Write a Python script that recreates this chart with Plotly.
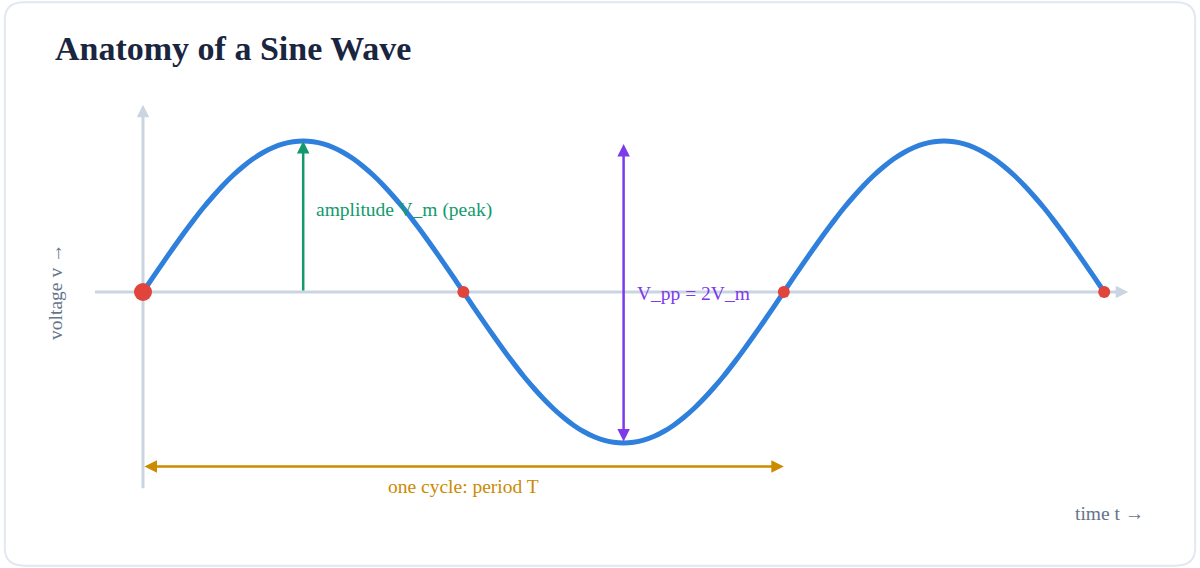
import plotly.graph_objects as go

# data: steps of T/64 (in units of T/4) and sampled voltage (units of V_m)
quarter_up = [0, 0.098, 0.195, 0.290, 0.383, 0.471, 0.556, 0.634, 0.707,
              0.773, 0.831, 0.882, 0.924, 0.957, 0.981, 0.995, 1]
t_q = [i * 0.0625 for i in range(97)]
v = (quarter_up + quarter_up[-2::-1]
     + [-a for a in quarter_up[1:]] + [-a for a in quarter_up[-2::-1]]
     + quarter_up[1:] + quarter_up[-2::-1])
zero_x = [0, 2, 4, 6]
zero_y = [0, 0, 0, 0]
zero_size = [18, 12, 12, 12]

SERIF = "Georgia, 'Liberation Serif', serif"
AX = "#cbd5e1"

fig = go.Figure()
fig.add_trace(go.Scatter(x=t_q, y=v, mode="lines", line=dict(color="#2f7fdc", width=5, shape="spline", smoothing=0.5), hoverinfo="skip"))
fig.add_trace(go.Scatter(x=zero_x, y=zero_y, mode="markers",
                         marker=dict(color="#e0443a", size=zero_size, opacity=1, line=dict(width=0)), hoverinfo="skip"))

def arrow(x0, y0, x1, y1, color, width, both=False, head=2, size=1):
    fig.add_annotation(x=x1, y=y1, ax=x0, ay=y0, xref="x", yref="y", axref="x", ayref="y",
                       showarrow=True, arrowhead=head, arrowsize=size, arrowwidth=width, arrowcolor=color,
                       arrowside="end+start" if both else "end", text="", standoff=0, startstandoff=0)

fig.add_shape(type="line", x0=-0.3, y0=0, x1=6.1, y1=0, line=dict(color=AX, width=3), layer="below")
fig.add_shape(type="line", x0=0, y0=-1.30, x1=0, y1=1.2, line=dict(color=AX, width=3), layer="below")
arrow(6.05, 0, 6.15, 0, AX, 2.5)
arrow(0, 1.15, 0, 1.24, AX, 2.5)
arrow(1, 0, 1, 1, "#129a6c", 2.5)
arrow(3, 0.99, 3, -0.99, "#7c3aed", 2.5, both=True)
arrow(0, -1.155, 4, -1.155, "#cc8a00", 2.5, both=True)

def label(x, y, text, color, size=19.5, xanchor="left", angle=0):
    fig.add_annotation(x=x, y=y, xref="x", yref="y", text=text, showarrow=False, xanchor=xanchor, yanchor="middle",
                       textangle=angle, font=dict(family=SERIF, size=size, color=color))

label(1.07, 0.54, "amplitude V_m (peak)", "#129a6c")
label(3.07, -0.01, "V_pp = 2V_m", "#7c3aed")
label(2, -1.285, "one cycle: period T", "#cc8a00", xanchor="center")
label(-0.55, 0, "voltage v →", "#64748b", angle=-90, xanchor="center")
label(6.26, -1.47, "time t →", "#64748b", xanchor="right")

fig.add_annotation(x=53/1200, y=1-48/568, xref="paper", yref="paper", text="<b>Anatomy of a Sine Wave</b>", showarrow=False,
                   xanchor="left", yanchor="middle", font=dict(family=SERIF, size=34, color="#1a2540"))

fig.add_shape(type="path", xref="paper", yref="paper",
              path="M 0.004,0.035 L 0.004,0.965 Q 0.004,0.996 0.02,0.996 L 0.98,0.996 Q 0.996,0.996 0.996,0.965 L 0.996,0.035 Q 0.996,0.004 0.98,0.004 L 0.02,0.004 Q 0.004,0.004 0.004,0.035 Z",
              line=dict(color="#e2e8f0", width=2), layer="below")

fig.update_layout(width=1200, height=568, margin=dict(l=0, r=0, t=0, b=0), showlegend=False,
                  paper_bgcolor="white", plot_bgcolor="rgba(0,0,0,0)",
                  xaxis=dict(range=[-143/160.2, (1200-143)/160.2], visible=False, fixedrange=True),
                  yaxis=dict(range=[-(568-292)/151, 292/151], visible=False, fixedrange=True))
fig.write_html("out.html", config={"displayModeBar": False},
               post_script="document.body.style.margin='0';document.body.style.overflow='hidden';")
